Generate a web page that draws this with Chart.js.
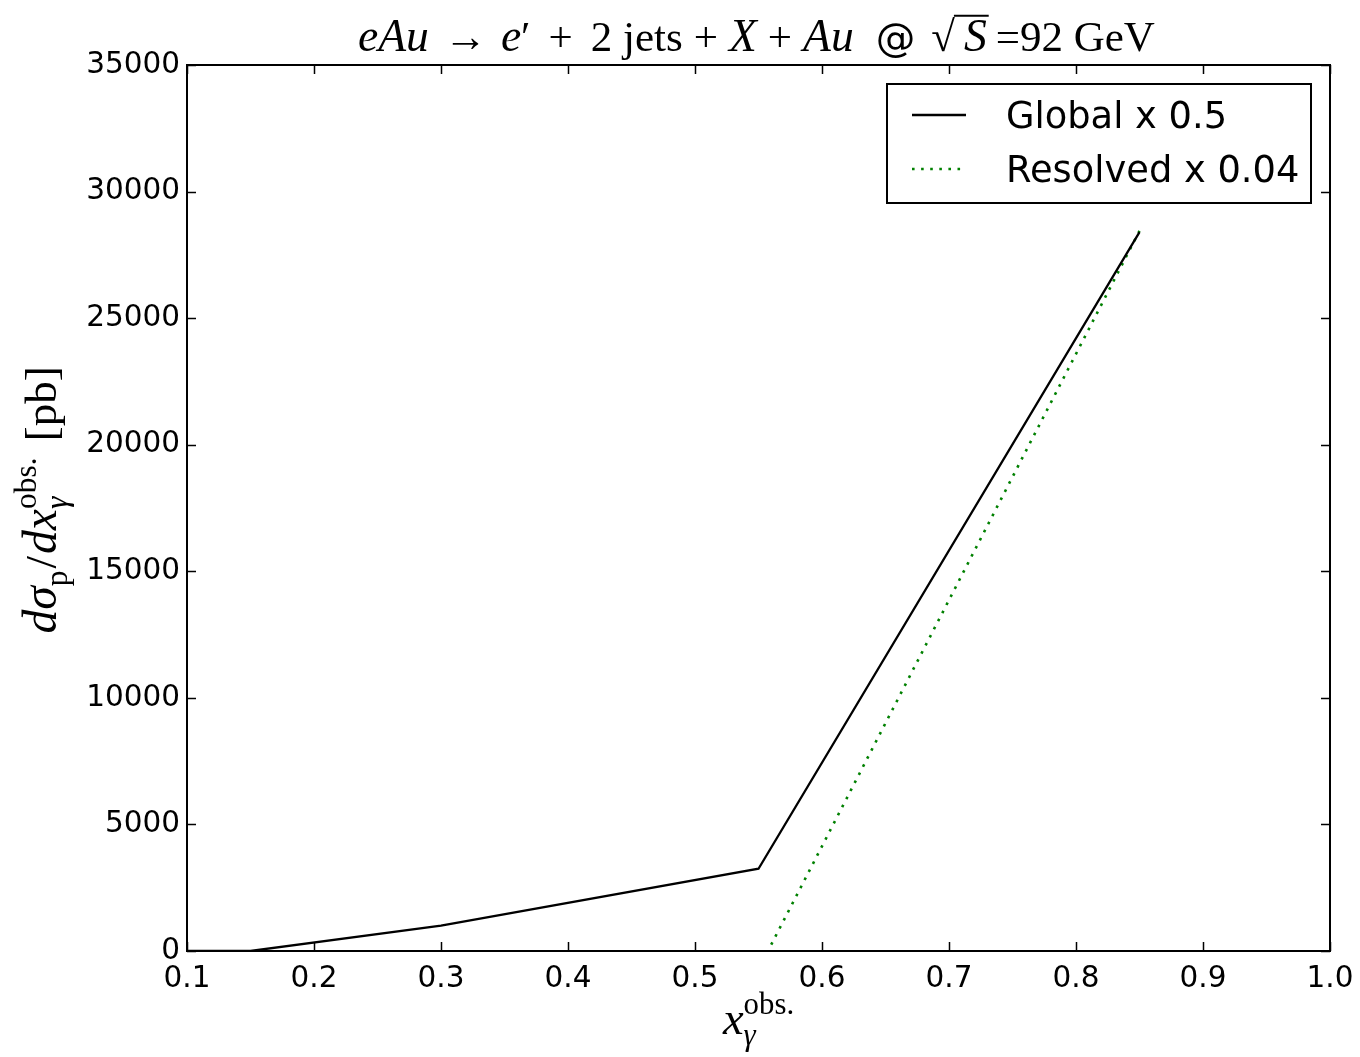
<!DOCTYPE html>
<html>
<head>
<meta charset="utf-8">
<title>eAu dijet photoproduction</title>
<script src="https://cdn.jsdelivr.net/npm/chart.js@4.4.1/dist/chart.umd.min.js"></script>
<style>
  html, body { margin: 0; padding: 0; background: #fff; }
  #wrap { position: relative; width: 1360px; height: 1057px; }
</style>
</head>
<body>
<div id="wrap"><canvas id="xsec"></canvas></div>
<script>
// x_gamma^obs bins and scaled cross sections [pb]
const globalX   = [0.1, 0.15, 0.3, 0.55, 0.85];
const globalY   = [0, 0, 1000, 3250, 28400];
const resolvedX = [0.56, 0.85];
const resolvedY = [250, 28450];

const xTicks = [0.1, 0.2, 0.3, 0.4, 0.5, 0.6, 0.7, 0.8, 0.9, 1.0];
const yTicks = [0, 5000, 10000, 15000, 20000, 25000, 30000, 35000];

const seriesNames = ['Global x 0.5', 'Resolved x 0.04'];

const AREA = { left: 187, top: 65, right: 1330, bottom: 951 };
const SERIF = '"Liberation Serif", "DejaVu Serif", serif';
const SANS = '"DejaVu Sans", sans-serif';

// tiny rich-text renderer for the math-style labels
function partFont(p, size) {
  let s = p.pos ? size * 0.7 : size;
  if (p.it && !p.pos) s *= 1.06;
  if (p.sans) s *= 0.92;
  return (p.it ? 'italic ' : '') + s.toFixed(1) + 'px ' + (p.sans ? SANS : SERIF);
}
function richWidth(ctx, parts, size) {
  let w = 0, last = 0;
  parts.forEach(p => {
    ctx.font = partFont(p, size);
    const pw = ctx.measureText(p.t).width;
    const g = (p.pre || 0) + (p.gap || 0);
    if (p.stack) { w += Math.max(0, pw - last) + g; last = Math.max(pw, last); }
    else { w += pw + g; last = pw; }
  });
  return w;
}
// align: 'center' puts cx in the middle, 'left' starts at cx
function drawRich(ctx, parts, cx, y, size, align) {
  let x = align === 'left' ? cx : cx - richWidth(ctx, parts, size) / 2;
  let prevStart = x, last = 0;
  ctx.textBaseline = 'alphabetic';
  ctx.textAlign = 'left';
  parts.forEach(p => {
    ctx.font = partFont(p, size);
    const pw = ctx.measureText(p.t).width;
    const px = p.stack ? prevStart : x + (p.pre || 0);
    let py = y;
    if (p.pos === 'sup') py = y - size * 0.45;
    if (p.pos === 'sub') py = y + size * 0.25;
    ctx.fillText(p.t, px, py);
    if (p.ov) {
      ctx.save();
      ctx.lineWidth = 1.8;
      ctx.beginPath();
      ctx.moveTo(px - (p.pre || 0) - 1, y - size * 0.82);
      ctx.lineTo(px + pw + 2, y - size * 0.82);
      ctx.stroke();
      ctx.restore();
    }
    if (p.stack) {
      const adv = Math.max(pw, last);
      x = prevStart + adv + (p.gap || 0);
      last = adv;
    } else {
      prevStart = px;
      x = px + pw + (p.gap || 0);
      last = pw;
    }
  });
}

const titleParts = [
  { t: 'eAu', it: true },
  { t: '\u2192', pre: 15, gap: 14 },
  { t: 'e', it: true },
  { t: '\u2032', gap: 18 },
  { t: '+', gap: 18 },
  { t: '2 jets' },
  { t: '+', pre: 11, gap: 11 },
  { t: 'X', it: true },
  { t: '+', pre: 11, gap: 11 },
  { t: 'Au', it: true },
  { t: '@', sans: true, pre: 22, gap: 16 },
  { t: '\u221A' },
  { t: 'S', it: true, ov: true, pre: 9, gap: 9 },
  { t: '=92 GeV' }
];
const yLabelParts = [
  { t: 'd\u03C3', it: true },
  { t: 'p', pos: 'sub' },
  { t: '/', pre: 2, gap: 2 },
  { t: 'dx', it: true },
  { t: '\u03B3', it: true, pos: 'sub' },
  { t: 'obs.', pos: 'sup', stack: true, gap: 16 },
  { t: '[pb]' }
];
const xLabelParts = [
  { t: 'x', it: true },
  { t: '\u03B3', it: true, pos: 'sub' },
  { t: 'obs.', pos: 'sup', stack: true }
];

// frame, inward ticks on all sides, axis labels, title and legend
const decorations = {
  id: 'decorations',
  afterDraw(chart) {
    const ctx = chart.ctx;
    const a = chart.chartArea;
    const xs = chart.scales.x, ys = chart.scales.y;
    ctx.save();
    ctx.strokeStyle = '#000';
    ctx.fillStyle = '#000';

    ctx.lineWidth = 1.5;
    ctx.beginPath();
    xTicks.forEach(v => {
      const px = Math.round(xs.getPixelForValue(v)) + 0.5;
      ctx.moveTo(px, a.bottom); ctx.lineTo(px, a.bottom - 9);
      ctx.moveTo(px, a.top); ctx.lineTo(px, a.top + 9);
    });
    yTicks.forEach(v => {
      const py = Math.round(ys.getPixelForValue(v)) + 0.5;
      ctx.moveTo(a.left, py); ctx.lineTo(a.left + 9, py);
      ctx.moveTo(a.right, py); ctx.lineTo(a.right - 9, py);
    });
    ctx.stroke();

    ctx.lineWidth = 2;
    ctx.strokeRect(a.left, a.top, a.right - a.left, a.bottom - a.top);

    drawRich(ctx, titleParts, 358, 51, 43, 'left');
    drawRich(ctx, xLabelParts, (a.left + a.right) / 2, 1034, 44);

    ctx.save();
    ctx.translate(56, 500);
    ctx.rotate(-Math.PI / 2);
    drawRich(ctx, yLabelParts, 0, 0, 45);
    ctx.restore();

    // legend box
    const lx = 887, ly = 84, lw = 424, lh = 119;
    ctx.fillStyle = '#fff';
    ctx.fillRect(lx, ly, lw, lh);
    ctx.lineWidth = 2;
    ctx.strokeStyle = '#000';
    ctx.strokeRect(lx, ly, lw, lh);
    chart.data.datasets.forEach((ds, i) => {
      const yy = 115 + i * 54;
      ctx.save();
      ctx.strokeStyle = ds.borderColor;
      ctx.lineWidth = ds.borderWidth;
      ctx.setLineDash(ds.borderDash || []);
      ctx.beginPath();
      ctx.moveTo(912, yy); ctx.lineTo(966, yy);
      ctx.stroke();
      ctx.restore();
      ctx.fillStyle = '#000';
      ctx.font = '36.8px ' + SANS;
      ctx.textBaseline = 'middle';
      ctx.textAlign = 'left';
      ctx.fillText(ds.label, 1006, yy + 3);
    });
    ctx.restore();
  }
};

const toPoints = (xs, ys) => xs.map((x, i) => ({ x: x, y: ys[i] }));

new Chart(document.getElementById('xsec'), {
  type: 'line',
  data: {
    datasets: [
      {
        label: seriesNames[0],
        data: toPoints(globalX, globalY),
        borderColor: '#000000',
        borderWidth: 2.3,
        pointRadius: 0,
        tension: 0
      },
      {
        label: seriesNames[1],
        data: toPoints(resolvedX, resolvedY),
        borderColor: '#008000',
        borderWidth: 2.6,
        borderDash: [2.6, 6.5],
        pointRadius: 0,
        tension: 0
      }
    ]
  },
  options: {
    responsive: true,
    maintainAspectRatio: false,
    animation: false,
    layout: { padding: { top: AREA.top, right: 1360 - AREA.right, left: 0, bottom: 0 } },
    plugins: {
      legend: { display: false },
      tooltip: { enabled: false }
    },
    scales: {
      x: {
        type: 'linear',
        min: 0.1,
        max: 1.0,
        afterBuildTicks: s => { s.ticks = xTicks.map(v => ({ value: v })); },
        afterFit: s => {
          s.height = 1057 - AREA.bottom;
          s.paddingLeft = 0;
          s.paddingRight = 0;
        },
        grid: { display: false, drawTicks: false },
        border: { display: false },
        ticks: {
          color: '#000',
          font: { family: 'DejaVu Sans', size: 29.5 },
          padding: 11,
          maxRotation: 0,
          callback: v => v.toFixed(1)
        }
      },
      y: {
        min: 0,
        max: 35000,
        afterBuildTicks: s => { s.ticks = yTicks.map(v => ({ value: v })); },
        afterFit: s => { s.width = AREA.left; },
        grid: { display: false, drawTicks: false },
        border: { display: false },
        ticks: {
          color: '#000',
          font: { family: 'DejaVu Sans', size: 29.5 },
          padding: 7,
          callback: v => String(v)
        }
      }
    }
  },
  plugins: [decorations]
});
</script>
</body>
</html>
